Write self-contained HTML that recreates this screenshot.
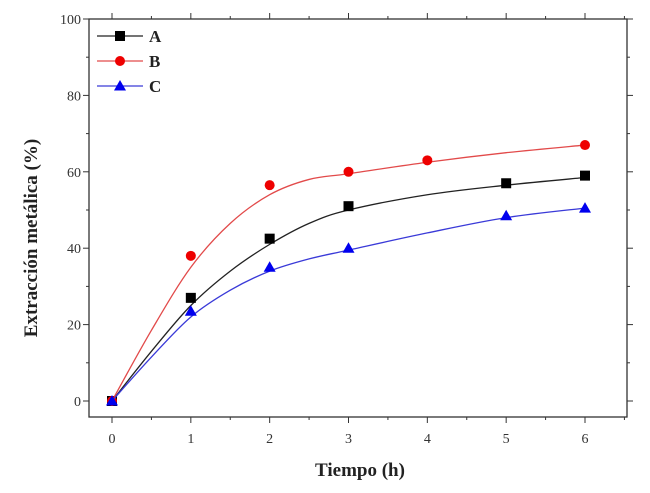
<!DOCTYPE html>
<html><head><meta charset="utf-8"><style>body{margin:0;background:#fff}svg{display:block}text{font-family:"Liberation Serif",serif}</style></head>
<body>
<svg id="chart" width="650" height="493" xmlns="http://www.w3.org/2000/svg"></svg>
<script>
const xTicks=[0,1,2,3,4,5,6];
const yTicks=[0,20,40,60,80,100];
const aX=[0,1,2,3,5,6];const aY=[0,27,42.5,51,57,59];
const bX=[0,1,2,3,4,6];const bY=[0,38,56.5,60,63,67];
const cX=[0,1,2,3,5,6];const cY=[0,23.5,35,40,48.5,50.5];
const fitX=[0,0.5,1,1.5,2,2.5,3,4,5,6];
const fitA=[0,13,25,34,41,46.5,50,54,56.5,58.5];
const fitB=[0,18.5,35,46.5,54,58,59.5,62.5,65,67];
const fitC=[0,11.5,22,29,34,37.2,39.5,44,48,50.5];
const L=89,R=627,T=19,B=417;
const sx=v=>112+v*(585-112)/6, sy=v=>401-v*(401-19)/100;
const svg=document.getElementById('chart');const NS='http://www.w3.org/2000/svg';
function el(t,a,p){const e=document.createElementNS(NS,t);for(const k in a)e.setAttribute(k,a[k]);(p||svg).appendChild(e);return e;}
const frame=el('rect',{x:L,y:T,width:R-L,height:B-T,fill:'none',stroke:'#333','stroke-width':1.3});

for(let v=0;v<=6.5;v+=0.5){const x=sx(v);if(x>R)continue;const len=Number.isInteger(v)?6:3;el('line',{x1:x,y1:B,x2:x,y2:B+len,stroke:'#333'});el('line',{x1:x,y1:T,x2:x,y2:T-len,stroke:'#333'});}
for(let v=0;v<=100;v+=10){const y=sy(v);const len=v%20===0?6:3;el('line',{x1:L,y1:y,x2:L-len,y2:y,stroke:'#333'});el('line',{x1:R,y1:y,x2:R+len,y2:y,stroke:'#333'});}
xTicks.forEach(v=>{const t=el('text',{x:sx(v),y:443,'text-anchor':'middle','font-size':14,fill:'#333'});t.textContent=v;});
yTicks.forEach(v=>{const t=el('text',{x:L-8,y:sy(v)+5,'text-anchor':'end','font-size':14,fill:'#333'});t.textContent=v;});
const xt=el('text',{x:360,y:476,'text-anchor':'middle','font-size':19,'font-weight':'bold',fill:'#222'});xt.textContent='Tiempo (h)';

const yt=el('text',{x:0,y:0,'text-anchor':'middle','font-size':19,'font-weight':'bold',fill:'#222',transform:'translate(37,238) rotate(-90)'});yt.textContent='Extracción metálica (%)';

function smooth(xs,ys){const p=xs.map((x,i)=>[sx(x),sy(ys[i])]);let d='M'+p[0];for(let i=0;i<p.length-1;i++){const p0=p[i-1]||p[i],p1=p[i],p2=p[i+1],p3=p[i+2]||p2;d+=' C'+(p1[0]+(p2[0]-p0[0])/6)+','+(p1[1]+(p2[1]-p0[1])/6)+' '+(p2[0]-(p3[0]-p1[0])/6)+','+(p2[1]-(p3[1]-p1[1])/6)+' '+p2;}return d;}
function marker(type,x,y,col,g){if(type==='s')return el('rect',{x:x-5,y:y-5,width:10,height:10,fill:col},g);if(type==='c')return el('circle',{cx:x,cy:y,r:5,fill:col},g);return el('polygon',{points:`${x},${y-6} ${x+6},${y+4.5} ${x-6},${y+4.5}`,fill:col},g);}
const series=[['A',fitA,aX,aY,'#222','#000','s'],['B',fitB,bX,bY,'#e24a4a','#e00','c'],['C',fitC,cX,cY,'#3a3ad8','#00e','t']];
series.forEach(([n,fit,xs,ys,lc,mc,m],k)=>{
 const g=el('g',{});
 const p=el('path',{d:smooth(fitX,fit),fill:'none',stroke:lc,'stroke-width':1.3},g);
 
 xs.forEach((x,i)=>{const mk=marker(m,sx(x),sy(ys[i]),mc,g);});
 const lg=el('g',{});
 const ly=36+k*25;el('line',{x1:97,y1:ly,x2:143,y2:ly,stroke:lc,'stroke-width':1.3},lg);marker(m,120,ly,mc,lg);
 const t=el('text',{x:149,y:ly+6,'font-size':17,'font-weight':'bold',fill:'#222'},lg);t.textContent=n;
});
</script>
</body></html>
